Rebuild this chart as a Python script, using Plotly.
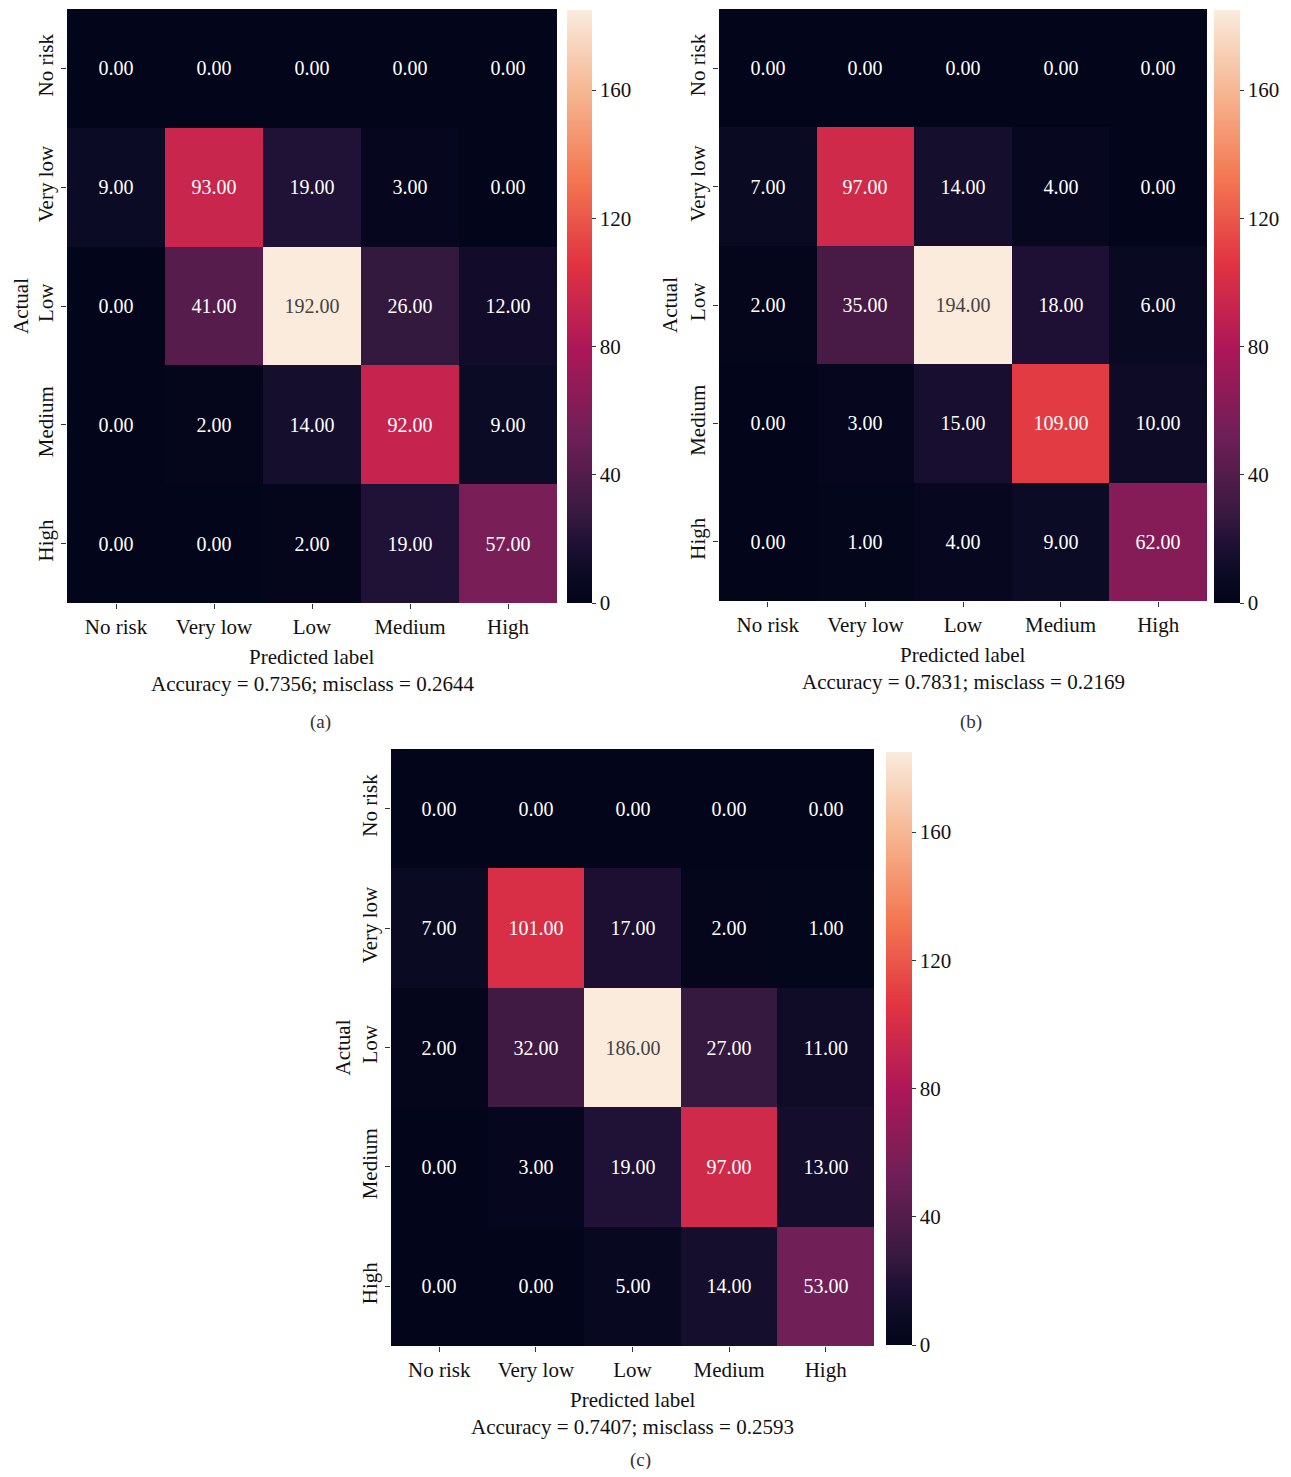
import plotly.graph_objects as go

labels = ["No risk", "Very low", "Low", "Medium", "High"]
cm_a = [[0, 0, 0, 0, 0], [9, 93, 19, 3, 0], [0, 41, 192, 26, 12], [0, 2, 14, 92, 9], [0, 0, 2, 19, 57]]
cm_b = [[0, 0, 0, 0, 0], [7, 97, 14, 4, 0], [2, 35, 194, 18, 6], [0, 3, 15, 109, 10], [0, 1, 4, 9, 62]]
cm_c = [[0, 0, 0, 0, 0], [7, 101, 17, 2, 1], [2, 32, 186, 27, 11], [0, 3, 19, 97, 13], [0, 0, 5, 14, 53]]
captions = ["Accuracy = 0.7356; misclass = 0.2644",
            "Accuracy = 0.7831; misclass = 0.2169",
            "Accuracy = 0.7407; misclass = 0.2593"]
panel_tags = ["(a)", "(b)", "(c)"]
cbar_ticks = [0, 40, 80, 120, 160]

OFF = 8  # default page body margin
W, H = 1291 - 2 * OFF, 1477 - 2 * OFF
FONT = "Liberation Serif"

rocket = [
    [0.0, "#03051a"],
    [0.05, "#0c0b25"],
    [0.1, "#1f1035"],
    [1/7, "#35193e"],
    [2/7, "#701f57"],
    [3/7, "#ad1759"],
    [4/7, "#e13342"],
    [5/7, "#f37651"],
    [6/7, "#f6b48f"],
    [1.0, "#faebdd"],
]

def px_x(v):
    return (v - OFF) / W

def px_y(v):
    return 1 - (v - OFF) / H

# panel geometry in reference pixels
panels = [
    dict(l=67, r=557, t=9, b=603, cbl=567, cbt=25, cbtop=10, cbbot=603, tag_dy=119),
    dict(l=719, r=1207, t=9, b=601, cbl=1214, cbt=26, cbtop=10, cbbot=603, tag_dy=121),
    dict(l=391, r=874, t=749, b=1346, cbl=886, cbt=26, cbtop=752, cbbot=1345, tag_dy=114),
]
mats = [cm_a, cm_b, cm_c]

fig = go.Figure()
annotations = []
for i, (p, m) in enumerate(zip(panels, mats)):
    sfx = "" if i == 0 else str(i + 1)
    fig.add_trace(go.Heatmap(
        z=m, x=labels, y=labels,
        xaxis="x" + sfx, yaxis="y" + sfx,
        colorscale=rocket, zmin=0, zmax=185,
        texttemplate="%{z:.2f}",
        textfont=dict(family=FONT, size=20),
        hoverinfo="skip",
        colorbar=dict(
            x=px_x(p["cbl"]), xanchor="left", xref="paper",
            y=px_y((p["cbtop"] + p["cbbot"]) / 2), yanchor="middle",
            lenmode="pixels", len=p["cbbot"] - p["cbtop"],
            thicknessmode="pixels", thickness=p["cbt"],
            outlinewidth=0, xpad=0, ypad=0,
            tickvals=cbar_ticks,
            ticks="outside", ticklen=4, tickcolor="#333",
            tickfont=dict(family=FONT, size=21, color="#111"),
        ),
    ))
    fig.update_layout(**{
        "xaxis" + sfx: dict(
            domain=[px_x(p["l"]), px_x(p["r"])], anchor="y" + sfx,
            tickfont=dict(family=FONT, size=21, color="#111"),
            ticks="outside", ticklen=5, tickcolor="#333",
            showgrid=False, zeroline=False, showline=False,
            automargin=False,
        ),
        "yaxis" + sfx: dict(
            domain=[px_y(p["b"]), px_y(p["t"])], anchor="x" + sfx,
            autorange="reversed",
            tickfont=dict(family=FONT, size=21, color="#111"),
            tickangle=-90,
            ticks="outside", ticklen=5, tickcolor="#333",
            showgrid=False, zeroline=False, showline=False,
            automargin=False,
        ),
    })
    cx = (p["l"] + p["r"]) / 2
    common = dict(xref="paper", yref="paper", showarrow=False, xanchor="center", yanchor="middle")
    annotations.append(dict(text="Predicted label", x=px_x(cx), y=px_y(p["b"] + 54),
                            font=dict(family=FONT, size=21, color="#111"), **common))
    annotations.append(dict(text=captions[i], x=px_x(cx), y=px_y(p["b"] + 81),
                            font=dict(family=FONT, size=21, color="#111"), **common))
    annotations.append(dict(text=panel_tags[i], x=px_x(cx + 8), y=px_y(p["b"] + p["tag_dy"]),
                            font=dict(family=FONT, size=19, color="#333"), **common))
    annotations.append(dict(text="Actual", x=px_x(max(p["l"] - 49, 21)), y=px_y((p["t"] + p["b"]) / 2),
                            textangle=-90,
                            font=dict(family=FONT, size=21, color="#111"), **common))

fig.update_layout(
    width=W, height=H,
    margin=dict(l=0, r=0, t=0, b=0, autoexpand=False),
    paper_bgcolor="white", plot_bgcolor="white",
    annotations=annotations,
    showlegend=False,
)

fig.write_html("out.html")
